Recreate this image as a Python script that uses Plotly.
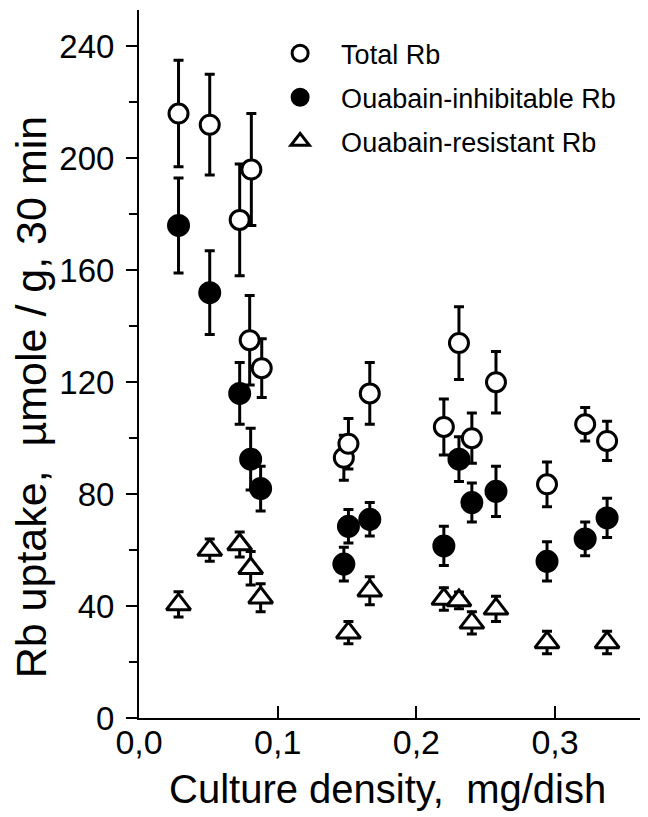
import plotly.graph_objects as go

# Total Rb (open circles)
dens_total = [0.0285, 0.051, 0.0726, 0.081, 0.0798, 0.0885, 0.1477, 0.151, 0.1664,
              0.2198, 0.2307, 0.240, 0.2574, 0.2942, 0.3217, 0.3375]
rb_total = [216, 212, 178, 196, 135, 125, 93, 98, 116, 104, 134, 100, 120, 83.5, 105, 99]
err_total = [19, 18, 20, 20, 16, 10.5, 8, 9, 11, 10, 13, 9, 11, 8, 6, 7]

# Ouabain-inhibitable Rb (filled circles)
dens_inh = [0.0285, 0.051, 0.0726, 0.0805, 0.0877, 0.1477, 0.151, 0.1664,
            0.2198, 0.2307, 0.240, 0.2574, 0.2942, 0.3217, 0.3375]
rb_inh = [176, 152, 116, 92.5, 82, 55, 68.5, 71, 61.5, 92.5, 77, 81, 56, 64, 71.5]
err_inh = [17, 15, 11, 11, 8, 6, 6, 6, 7, 8, 7, 9, 7, 6, 7]

# Ouabain-resistant Rb (open triangles)
dens_res = [0.0285, 0.051, 0.0726, 0.0805, 0.0877, 0.151, 0.1664,
            0.2198, 0.2307, 0.240, 0.2574, 0.2942, 0.3375]
rb_res = [40.6, 60, 62, 53.5, 43, 30.5, 45.5, 42.5, 42, 34, 39, 27, 27]
err_res = [4.5, 4, 4.5, 6, 5, 4, 5, 4, 3, 4, 4.5, 4, 4]

FONT = "Liberation Sans, Arial, sans-serif"

fig = go.Figure()

series = [
    ("Total Rb", dens_total, rb_total, err_total, "circle", "white", 19),
    ("Ouabain-inhibitable Rb", dens_inh, rb_inh, err_inh, "circle", "black", 20),
    ("Ouabain-resistant Rb", dens_res, rb_res, err_res, "triangle-up", "white", 21),
]
for name, x, y, e, sym, fill, size in series:
    fig.add_trace(
        go.Scatter(
            x=x, y=y, name=name, legendgroup=name, mode="markers",
            marker=dict(symbol=sym, size=size, color=fill,
                        line=dict(color="black", width=3)),
            error_y=dict(type="data", array=e, color="black",
                         thickness=3, width=5),
        )
    )

# page has an 8px body margin, so the figure is 8px smaller than the window
fig.update_layout(
    width=640, height=809,
    margin=dict(l=131, r=0, t=2, b=99),
    paper_bgcolor="white", plot_bgcolor="white",
    separators=",.",
    font=dict(family=FONT, color="black"),
    showlegend=True,
    legend=dict(x=0.236, y=0.973, xanchor="left", yanchor="top",
                font=dict(size=27, family=FONT), bgcolor="rgba(0,0,0,0)",
                itemwidth=72, tracegroupgap=6, itemsizing="trace"),
    annotations=[
        dict(text="Rb uptake,\u00a0\u00a0\u00b5mole / g, 30 min", textangle=-90,
             xref="paper", yref="paper", x=-0.212, y=0.453,
             xanchor="center", yanchor="middle", showarrow=False,
             font=dict(size=43, family=FONT)),
        dict(text="Culture density,\u00a0\u00a0mg/dish",
             xref="paper", yref="paper", x=0.489, y=-0.1,
             xanchor="center", yanchor="middle", showarrow=False,
             font=dict(size=40, family=FONT)),
    ],
)

fig.update_xaxes(
    range=[0, 0.367], tickvals=[0, 0.1, 0.2, 0.3], tickformat=".1f",
    showline=True, linecolor="black", linewidth=2, showgrid=False, zeroline=False,
    ticks="inside", ticklen=12, tickwidth=2, tickcolor="black",
    tickfont=dict(size=34, family=FONT), ticklabelstandoff=-7,
)
fig.update_yaxes(
    range=[0, 253], tickvals=[0, 40, 80, 120, 160, 200, 240],
    showline=True, linecolor="black", linewidth=2, showgrid=False, zeroline=False,
    ticks="outside", ticklen=11, tickwidth=2, tickcolor="black",
    minor=dict(tickvals=[20, 60, 100, 140, 180, 220], ticks="outside",
               ticklen=8, tickwidth=2, tickcolor="black", showgrid=False),
    tickfont=dict(size=33, family=FONT), ticklabelstandoff=5,
)

fig.write_html("out.html")
